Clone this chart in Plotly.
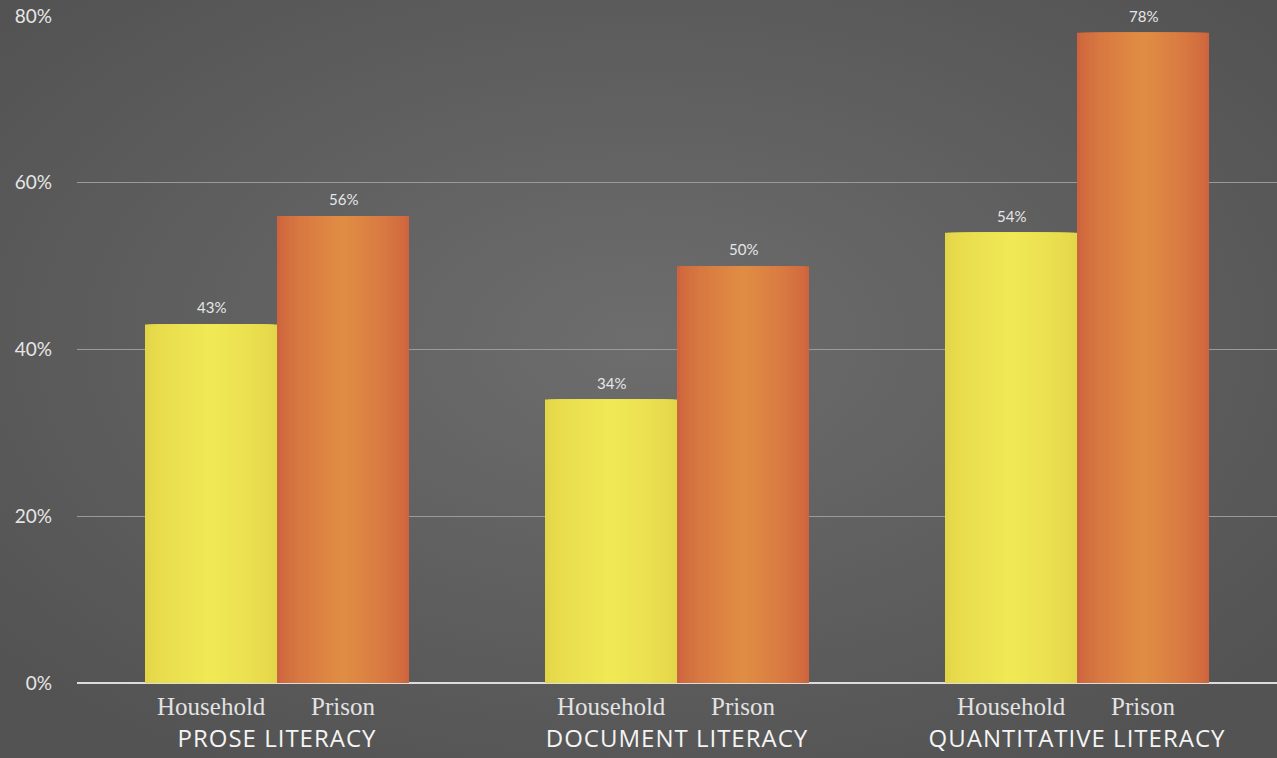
import base64
import plotly.graph_objects as go

categories = ["PROSE LITERACY", "DOCUMENT LITERACY", "QUANTITATIVE LITERACY"]
series_names = ["Household", "Prison"]
household = [43, 34, 54]
prison = [56, 50, 78]
y_ticks = [0, 20, 40, 60, 80]
y_tick_labels = ["0%", "20%", "40%", "60%", "80%"]

BAR_W = 0.33
# gradient profiles: (edge color, center color)
profiles = {
    "Household": ((0xE4, 0xD5, 0x48), (0xF1, 0xE9, 0x56)),
    "Prison": ((0xCE, 0x64, 0x3E), (0xE1, 0x8E, 0x44)),
}
K = 22

def mix(a, b, t):
    return "rgb(%d,%d,%d)" % tuple(round(a[i] + (b[i] - a[i]) * t) for i in range(3))

fig = go.Figure()
for s, (name, vals) in enumerate(zip(series_names, [household, prison])):
    edge, center = profiles[name]
    for k in range(K):
        frac = 1 - k / K
        w = BAR_W * frac
        t = (1 - frac) ** 0.7
        fig.add_trace(go.Bar(
            x=categories, y=vals, width=w,
            offset=(-BAR_W if s == 0 else 0) + (BAR_W - w) / 2,
            marker=dict(color=mix(edge, center, t), line=dict(width=0)),
            showlegend=False, hoverinfo="skip",
        ))

annotations = []
for s, vals in enumerate([household, prison]):
    for i, v in enumerate(vals):
        xc = i + (-BAR_W / 2 if s == 0 else BAR_W / 2)
        annotations.append(dict(
            x=xc, y=v, xref="x", yref="y", text=f"{v}%", showarrow=False,
            yanchor="bottom", yshift=6,
            font=dict(family="Lato", size=15, color="#e6e6e6"),
        ))
        annotations.append(dict(
            x=xc, y=0, xref="x", yref="paper", text=series_names[s], showarrow=False,
            yanchor="top", yshift=-8,
            font=dict(family="Liberation Serif", size=25, color="#e2e2e2"),
        ))

svg = """<svg xmlns='http://www.w3.org/2000/svg' width='1277' height='758'>
<defs><radialGradient id='g' cx='50%' cy='45%' r='65%'>
<stop offset='0' stop-color='#6d6d6e'/><stop offset='1' stop-color='#535353'/>
</radialGradient></defs><rect width='1277' height='758' fill='url(#g)'/></svg>"""
src = "data:image/svg+xml;base64," + base64.b64encode(svg.encode()).decode()

L, R, T, B = 77, 0, 16, 75
W, H = 1277, 758
pw, ph = W - L - R, H - T - B

fig.update_layout(
    width=W, height=H,
    margin=dict(l=L, r=R, t=T, b=B),
    barmode="overlay",
    paper_bgcolor="#5c5c5c",
    plot_bgcolor="rgba(0,0,0,0)",
    images=[dict(source=src, xref="paper", yref="paper",
                 x=-L / pw, y=1 + T / ph, sizex=W / pw, sizey=H / ph,
                 xanchor="left", yanchor="top", sizing="stretch", layer="below")],
    annotations=annotations,
    xaxis=dict(
        type="category", range=[-0.5, 2.5],
        showgrid=False, showline=False, zeroline=False, ticks="",
        tickfont=dict(family="Open Sans", size=24, weight=500, color="#f4f4f4"),
        ticklabelstandoff=39,
    ),
    yaxis=dict(
        range=[0, 80], tickvals=y_ticks, ticktext=y_tick_labels,
        showgrid=True, gridcolor="#9a9a9a", gridwidth=1,
        zeroline=True, zerolinecolor="#dcdcdc", zerolinewidth=2,
        showline=False, ticks="",
        tickfont=dict(family="Lato", size=19, color="#e6e6e6"),
        ticklabelstandoff=24,
    ),
)

post = """
document.body.style.margin='0';
document.body.style.overflow='hidden';
document.querySelectorAll('.xtick text').forEach(function(t){t.style.letterSpacing='1px';});
"""
fig.write_html("out.html", config={"displayModeBar": False}, post_script=post)
